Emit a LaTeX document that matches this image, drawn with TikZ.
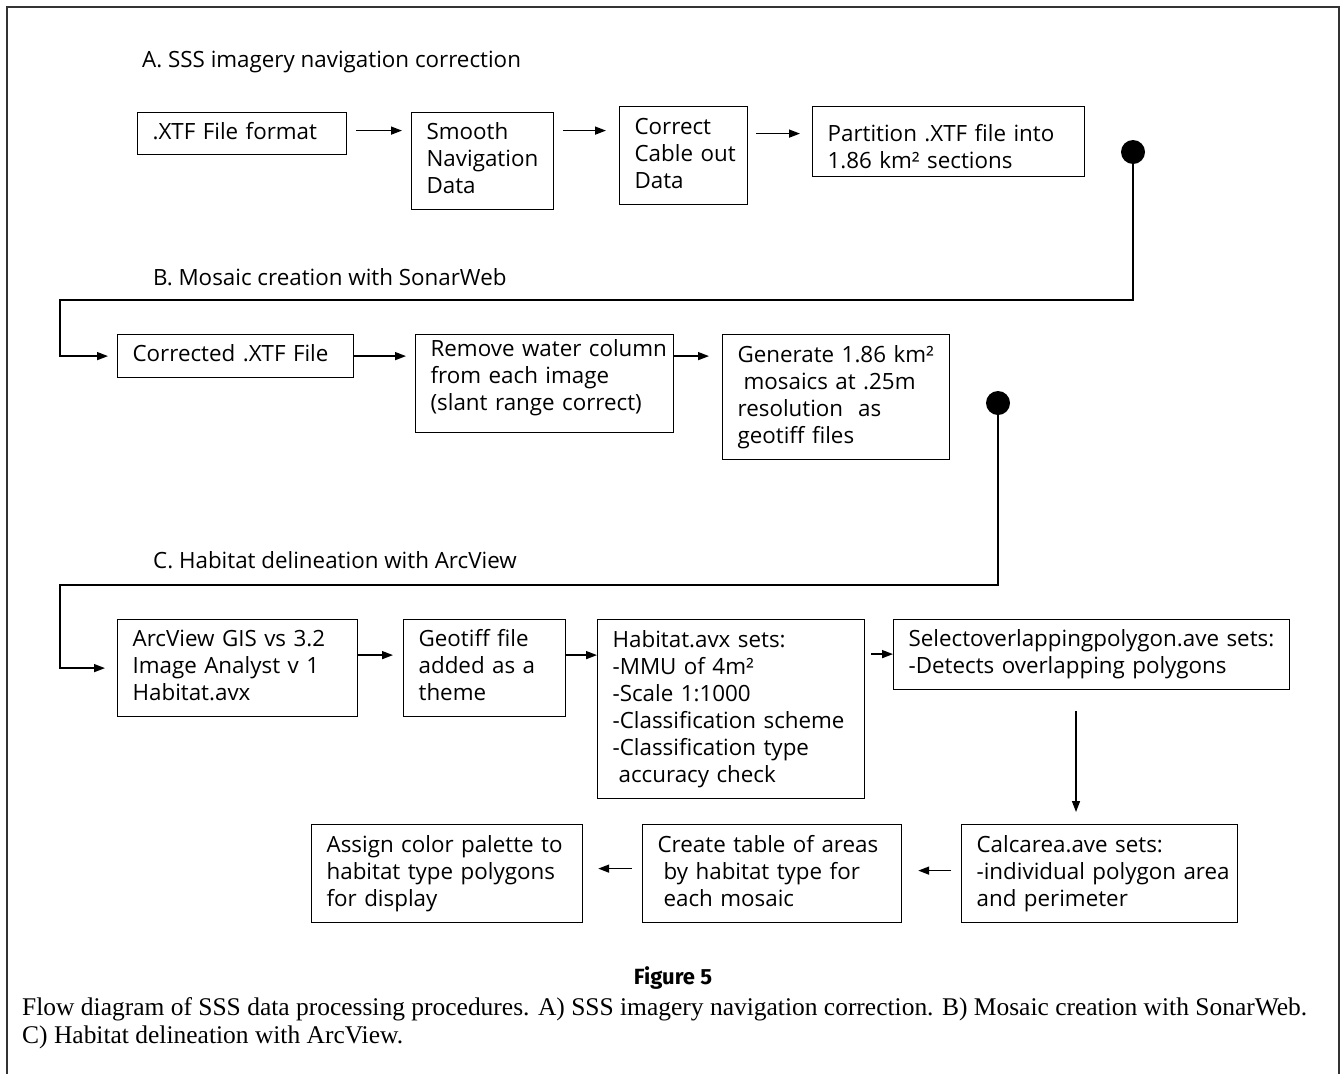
\documentclass[tikz,border=0pt]{standalone}
\usepackage{fontspec}
\setmainfont{Open Sans}
\newfontfamily\boxfont{Open Sans}
\newfontfamily\capfont{Liberation Serif}
\newfontfamily\figfont{Fira Sans}
\usetikzlibrary{arrows.meta,calc}
\newlength\capwd
\newlength\boxwd
\newcommand\oneL[1]{\mbox{#1}}
\begin{document}
\settowidth\boxwd{\boxfont\fontsize{10}{12}\selectfont Selectoverlappingpolygon.ave sets:}%
\pgfmathsetmacro\bsz{10*364/\boxwd}%
\settowidth\capwd{\capfont\fontsize{10}{12}\selectfont Flow diagram of SSS data processing procedures. A) SSS imagery navigation correction. B) Mosaic creation with SonarWeb.}%
\pgfmathsetmacro\capsz{10*1285/\capwd}%
\begin{tikzpicture}[x=1pt,y=-1pt,
  every node/.style={inner sep=0pt},
  flowbox/.style={draw=black, line width=1.2pt, anchor=north west,
    inner xsep=15pt, inner ysep=0pt, align=left,
    font=\boxfont\fontsize{\bsz}{27}\selectfont,
    execute at begin node=\strut, execute at end node=\strut},
  title/.style={anchor=west, font=\boxfont\fontsize{\bsz}{27}\selectfont},
  arr/.style={line width=1.5pt, draw=black, -{Triangle[length=11pt,width=8pt]}},
  dot/.style={circle, fill=black, minimum size=24pt, inner sep=0pt}]
\useasboundingbox (0,0) rectangle (1340,1074);
% frame
\draw[line width=2pt, draw=black!80] (7,1074) -- (7,7) -- (1339,7) -- (1339,1074);

% titles
\node[title] (tA) at (142,62) {A. SSS imagery navigation correction};
\node[title] (tB) at (153,277) {B. Mosaic creation with SonarWeb};
\node[title] (tC) at (153,560) {C. Habitat delineation with ArcView};

% row A
\node[flowbox, text width=179pt, minimum height=42pt] (b1) at (137,112) {\oneL{.XTF File format}};
\node[flowbox, text width=112pt, minimum height=97pt] (b2) at (411,112) {Smooth\\Navigation\\Data};
\node[flowbox, text width=98pt, minimum height=98pt] (b3) at (619,106) {Correct\\\oneL{Cable out}\\Data};
\node[flowbox, text width=242pt, minimum height=70pt] (b4) at (812,106) {\rule{0pt}{35pt}\oneL{Partition .XTF file into}\\\oneL{1.86 km² sections}};

% row B
\node[flowbox, text width=206pt, minimum height=43pt] (b5) at (117,334) {\oneL{Corrected .XTF File}};
\node[flowbox, text width=228pt, minimum height=98pt] (b6) at (415,334) {\oneL{Remove water column}\\\oneL{from each image}\\\oneL{(slant range correct)}\rule[-20pt]{0pt}{1pt}};
\node[flowbox, text width=197pt, minimum height=125pt] (b7) at (722,334) {\oneL{Generate 1.86 km²}\\\hspace*{6pt}\oneL{mosaics at .25m}\\\oneL{resolution\ \ as}\\\oneL{geotiff files}};

% row C
\node[flowbox, text width=210pt, minimum height=97pt] (b8) at (117,619) {\oneL{ArcView GIS vs 3.2}\\\oneL{Image Analyst v 1}\\Habitat.avx};
\node[flowbox, text width=132pt, minimum height=97pt] (b9) at (403,619) {\oneL{Geotiff file}\\\oneL{added as a}\\theme};
\node[flowbox, text width=237pt, minimum height=179pt] (b10) at (597,619) {\oneL{Habitat.avx sets:}\\\oneL{-MMU of 4m²}\\\oneL{-Scale 1:1000}\\\oneL{-Classification scheme}\\\oneL{-Classification type}\\\hspace*{6pt}\oneL{accuracy check}};
\node[flowbox, text width=366pt, minimum height=70pt] (b11) at (893,619) {\oneL{Selectoverlappingpolygon.ave sets:}\\\oneL{-Detects overlapping polygons}};
\node[flowbox, text width=246pt, minimum height=98pt] (b12) at (961,824) {\oneL{Calcarea.ave sets:}\\\oneL{-individual polygon area}\\\oneL{and perimeter}};
\node[flowbox, text width=229pt, minimum height=98pt] (b13) at (642,824) {\oneL{Create table of areas}\\\hspace*{6pt}\oneL{by habitat type for}\\\hspace*{6pt}\oneL{each mosaic}};
\node[flowbox, text width=241pt, minimum height=98pt] (b14) at (311,824) {\oneL{Assign color palette to}\\\oneL{habitat type polygons}\\\oneL{for display}};

% dots and bend points
\node[dot] (d1) at (1133,152) {};
\node[dot] (d2) at (998,403) {};
\coordinate (c1) at (60,300);
\coordinate (c2) at (60,585);
\coordinate (vx) at (1076,0);

% row A arrows
\draw[arr] ($(b1.east)+(9,-3)$) -- ($(b2.west |- b1.east)+(-9,-3)$);
\draw[arr] ($(b2.east |- b1.east)+(9,-3)$) -- ($(b3.west |- b1.east)+(-13,-3)$);
\draw[arr] ($(b3.east |- b1.east)+(8,0)$) -- ($(b4.west |- b1.east)+(-12,0)$);
% A -> B connector
\draw[arr, shorten >=9pt] (d1.center) -- (d1.center |- c1) -- (c1) -- (c1 |- b5.west) -- (b5.west);
% row B arrows
\draw[arr] (b5.east) -- ($(b6.west |- b5.east)+(-9,0)$);
\draw[arr] (b6.east |- b5.east) -- ($(b7.west |- b5.east)+(-13,0)$);
% B -> C connector
\draw[arr, shorten >=12pt] (d2.center) -- (d2.center |- c2) -- (c2) -- (c2 |- b8.west) -- (b8.west);
% row C arrows
\draw[arr] ($(b8.east)+(0,-13)$) -- ($(b9.west |- b8.east)+(-10,-13)$);
\draw[arr] ($(b9.east)+(0,-13)$) -- ($(b10.west |- b9.east)+(0,-13)$);
\draw[arr] ($(b10.east |- b9.east)+(6,-14)$) -- ($(b11.west |- b9.east)+(0,-14)$);
\draw[arr] ($(b11.south -| vx)+(0,21)$) -- ($(b12.north -| vx)+(0,-12)$);
\draw[arr] ($(b12.west)+(-10,-3)$) -- ($(b13.east |- b12.west)+(16,-3)$);
\draw[arr] ($(b13.west)+(-10,-5)$) -- ($(b14.east |- b13.west)+(15,-5)$);

% caption
\node[anchor=base, font=\figfont\bfseries\fontsize{22}{26}\selectfont] (fig) at (673,984) {Figure 5};
\node[anchor=base west, font=\capfont\fontsize{\capsz}{29}\selectfont] (cap1) at (22,1015) {Flow diagram of SSS data processing procedures. A) SSS imagery navigation correction. B) Mosaic creation with SonarWeb.};
\node[anchor=base west, font=\capfont\fontsize{\capsz}{29}\selectfont] (cap2) at (22,1043) {C) Habitat delineation with ArcView.};
\end{tikzpicture}
\end{document}
